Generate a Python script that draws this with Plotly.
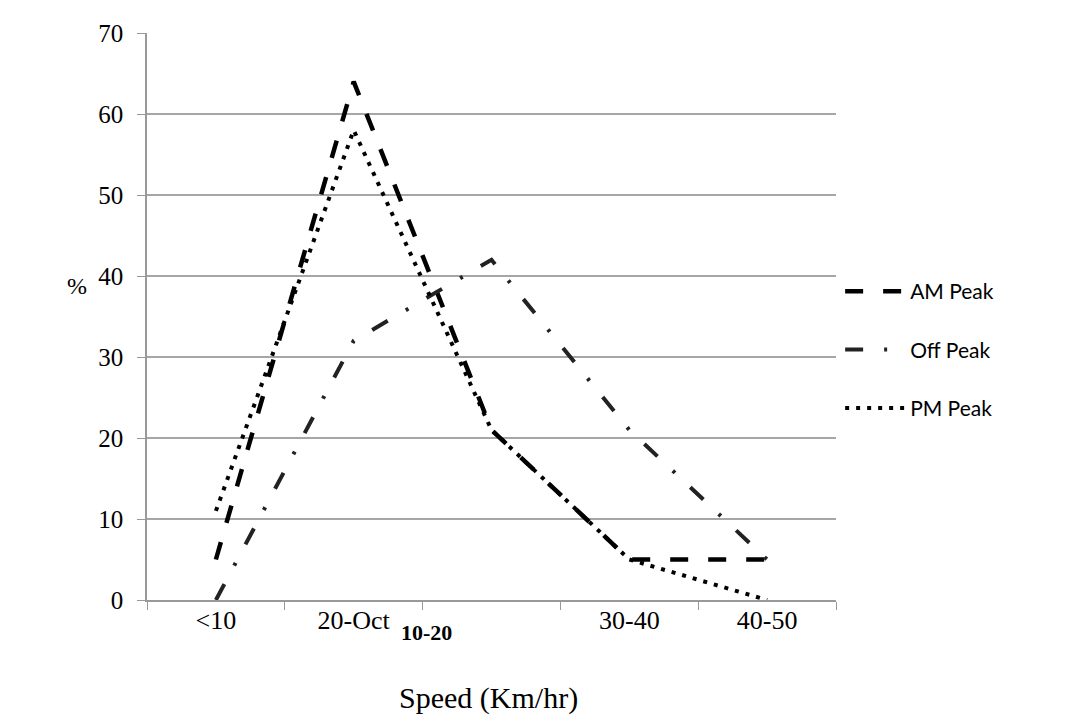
import plotly.graph_objects as go

categories = ["<10", "20-Oct", "20-30", "30-40", "40-50"]
tick_labels = ["<10", "20-Oct", "", "30-40", "40-50"]
am_peak = [5, 64, 21, 5, 5]
off_peak = [0, 32, 42, 21, 5]
pm_peak = [11, 58, 21, 5, 0]
y_ticks = [0, 10, 20, 30, 40, 50, 60, 70]

serif = "Liberation Serif, Times New Roman, serif"

fig = go.Figure()
fig.add_trace(go.Scatter(x=categories, y=am_peak, name="AM Peak", mode="lines",
                         legendgroup="a",
                         line=dict(color="black", width=4.5, dash="18px,20px")))
fig.add_trace(go.Scatter(x=categories, y=off_peak, name="Off Peak", mode="lines",
                         legendgroup="b",
                         line=dict(color="#222222", width=4, dash="18px,21px,3px,21px")))
fig.add_trace(go.Scatter(x=categories, y=pm_peak, name="PM Peak", mode="lines",
                         legendgroup="c",
                         line=dict(color="black", width=4, dash="4px,7px")))

fig.update_layout(
    width=1063, height=712,
    margin=dict(l=139, r=235, t=22, b=120),
    paper_bgcolor="white", plot_bgcolor="white",
    font=dict(family=serif, size=18, color="black"),
    legend=dict(x=1.006, y=0.58, xanchor="left", yanchor="top",
                traceorder="grouped", tracegroupgap=28,
                font=dict(family="Lato, Noto Sans, sans-serif", size=21, color="black"),
                itemwidth=60, bgcolor="rgba(0,0,0,0)"),
    xaxis=dict(type="category", tickmode="array", tickvals=categories, ticktext=tick_labels,
               range=[-0.5, 4.5], tickson="boundaries", ticks="outside", ticklen=8,
               tickcolor="#999999", showline=True, linecolor="#999999", linewidth=1.5,
               showgrid=False, zeroline=False, tickfont=dict(family=serif, size=26),
               ticklabelstandoff=-4),
    yaxis=dict(range=[0, 70], tickmode="array", tickvals=y_ticks, ticks="outside", ticklen=8,
               tickcolor="#999999", showline=True, linecolor="#999999", linewidth=1.5,
               showgrid=True, gridcolor="#a6a6a6", gridwidth=1.5, zeroline=False,
               tickfont=dict(family=serif, size=25), ticklabelstandoff=9),
    annotations=[
        dict(text="%", xref="paper", yref="paper", x=-0.102, y=0.553, showarrow=False,
             xanchor="center", yanchor="middle", font=dict(family=serif, size=24)),
        dict(text="<b>10-20</b>", xref="paper", yref="paper", x=(426 - 147) / 689,
             y=-(633 - 600) / 570, showarrow=False, xanchor="center", yanchor="middle",
             font=dict(family=serif, size=22)),
        dict(text="Speed (Km/hr)", xref="paper", yref="paper", x=(488 - 147) / 689,
             y=-(699 - 600) / 570, showarrow=False, xanchor="center", yanchor="middle",
             font=dict(family=serif, size=30)),
    ],
)

fig.write_html("out.html")
